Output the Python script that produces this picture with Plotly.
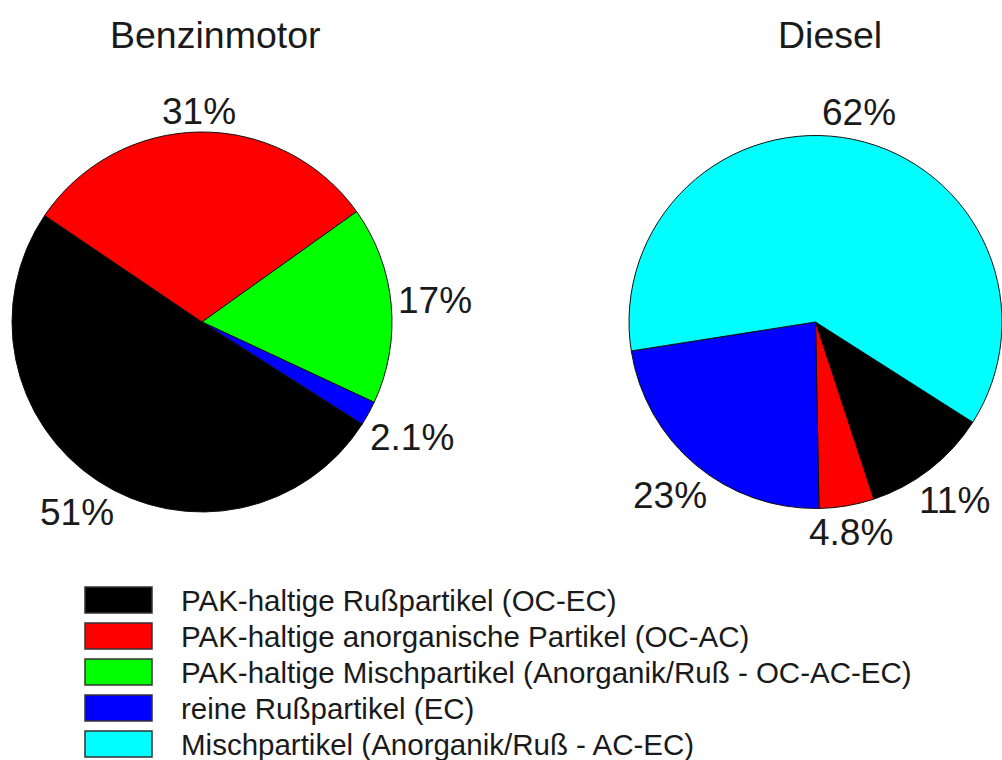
import math
import plotly.graph_objects as go

W, H = 1002, 760

# Particle classes (legend order) and their fill colours
categories = [
    "PAK-haltige Rußpartikel (OC-EC)",
    "PAK-haltige anorganische Partikel (OC-AC)",
    "PAK-haltige Mischpartikel (Anorganik/Ruß - OC-AC-EC)",
    "reine Rußpartikel (EC)",
    "Mischpartikel (Anorganik/Ruß - AC-EC)",
]
colors = ["#000000", "#ff0000", "#00ff00", "#0000ff", "#00ffff"]

# Shares in percent
benzin_labels = categories[:4]
benzin_values = [51, 31, 17, 2.1]

diesel_labels = [categories[0], categories[1], categories[3], categories[4]]
diesel_values = [11, 4.8, 23, 62]

titles = ["Benzinmotor", "Diesel"]

FONT = "Arial, Liberation Sans, sans-serif"
TXT = "#1a1a1a"
PCT_SIZE = 37
ROTATION = 122.5          # start of the first slice, degrees clockwise from 12 o'clock
color_of = dict(zip(categories, colors))

# Arial advance widths (em) for the characters used in the value labels
ADV = {d: 0.556 for d in "0123456789"}
ADV.update({"%": 0.889, ".": 0.278})


def px_x(x):
    return x / W


def px_y(y):
    return 1 - y / H


def pie(labels, values, box):
    x0, y0, x1, y1 = box
    return go.Pie(
        labels=labels,
        values=values,
        sort=False,
        direction="clockwise",
        rotation=ROTATION,
        marker=dict(colors=[color_of[l] for l in labels],
                    line=dict(color="#111111", width=1)),
        textinfo="none",
        domain=dict(x=[px_x(x0), min(px_x(x1), 1.0)],
                    y=[px_y(y1), px_y(y0)]),
        showlegend=False,
        hoverinfo="label+value",
    )


def value_labels(values, box, gap=6):
    """Percent labels just outside each slice, centred on its mid-angle."""
    x0, y0, x1, y1 = box
    x1 = min(x1, W)
    r = min(x1 - x0, y1 - y0) / 2
    cx, cy = (x0 + x1) / 2, (y0 + y1) / 2
    total = sum(values)
    out, cum = [], 0.0
    for v in values:
        theta = math.radians(ROTATION + 360 * (cum + v / 2) / total)
        cum += v
        ux, uy = math.sin(theta), -math.cos(theta)
        txt = f"{v:g}%"
        w = PCT_SIZE * sum(ADV[c] for c in txt)
        h = PCT_SIZE * 0.76
        dist = r + gap + abs(ux) * w / 2 + abs(uy) * h / 2
        out.append(dict(
            text=txt, x=px_x(cx + ux * dist), y=px_y(cy + uy * dist),
            xref="paper", yref="paper", xanchor="center", yanchor="middle",
            showarrow=False, font=dict(family=FONT, size=PCT_SIZE, color=TXT),
        ))
    return out


# Pie boxes in pixels: left, top, right, bottom
benzin_box = (12, 132, 392, 512)
diesel_box = (629, 133, 1002, 511)

fig = go.Figure()
fig.add_trace(pie(benzin_labels, benzin_values, benzin_box))
fig.add_trace(pie(diesel_labels, diesel_values, diesel_box))

annotations = value_labels(benzin_values, benzin_box) + \
    value_labels(diesel_values, diesel_box)

for title, cx in zip(titles, [215, 830]):
    annotations.append(dict(
        text=title, x=px_x(cx), y=px_y(35), xref="paper", yref="paper",
        xanchor="center", yanchor="middle", showarrow=False,
        font=dict(family=FONT, size=37.5, color=TXT),
    ))

# Legend: large swatches with labels
shapes = []
row0, step = 600, 36
for i, (cat, col) in enumerate(zip(categories, colors)):
    yc = row0 + i * step
    shapes.append(dict(
        type="rect", xref="paper", yref="paper",
        x0=px_x(85), x1=px_x(152), y0=px_y(yc - 13), y1=px_y(yc + 13),
        fillcolor=col, line=dict(color="#333333", width=1.5),
    ))
    annotations.append(dict(
        text=cat, x=px_x(179), y=px_y(yc), xref="paper", yref="paper",
        xanchor="left", yanchor="middle", showarrow=False,
        font=dict(family=FONT, size=29.5, color=TXT),
    ))

fig.update_layout(
    width=W, height=H,
    margin=dict(l=0, r=0, t=0, b=0),
    paper_bgcolor="white",
    plot_bgcolor="white",
    annotations=annotations,
    shapes=shapes,
)

fig.write_html("out.html")
